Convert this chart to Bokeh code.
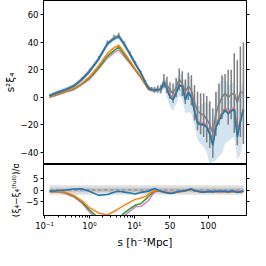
import numpy as np
from bokeh.plotting import figure
from bokeh.layouts import column
from bokeh.models import FixedTicker, LinearAxis, CustomJSTickFormatter, Range1d
from bokeh.embed import file_html
from bokeh.resources import INLINE

# ---------------- data ----------------
s = [0.13, 0.2, 0.3, 0.45, 0.67, 1.0, 1.6, 2.5, 3.5, 4.5, 6.0, 8.0, 10.5, 14, 18,
     22, 26, 30, 34, 38, 42, 46, 50, 54, 58, 62, 66, 70, 74, 78, 82, 86, 90, 94,
     98, 102, 106, 110, 114, 118, 122, 126, 130, 134, 138, 142, 146]

blue_top = [1.0, 3.5, 5.5, 8.0, 12.5, 18.5, 27.5, 38.5, 42.5, 44.0, 38.0, 31.0, 24.0, 17.5, 10.5,
            6.5, 5.5, 5.0, 5.5, 5.5, 10.5, 6.0, 0.0, -2.0, 3.0, 9.0, 8.0, -2.0, 3.5, 0.0, -10.0,
            -19.0, -20.0, -20.0, -22.0, -27.0, -35.0, -22.0, -17.0, -13.0, -9.5, -12.0, -10.0,
            -9.0, -29.0, -18.0, -9.0]
blue_band = [2.0, 2.0, 2.0, 2.0, 1.8, 1.6, 1.5, 1.5, 1.5, 1.5, 1.5, 1.5, 1.5, 1.5, 1.5,
             1.5, 2.0, 2.0, 2.5, 3.0, 4.0, 6.0, 7.0, 8.0, 8.0, 8.0, 9.0, 10.0, 14.0, 12.0, 11.0,
             12.0, 14.0, 16.0, 18.0, 22.0, 12.0, 24.0, 26.0, 28.0, 24.0, 20.0, 20.0, 20.0, 16.0,
             24.0, 22.0]
gray_top = [1.5, 4.0, 6.0, 8.5, 13.5, 19.5, 28.5, 39.5, 43.5, 45.0, 39.0, 32.0, 25.0, 18.0, 11.0,
            7.0, 6.0, 5.5, 6.0, 6.0, 12.0, 9.0, 5.0, 3.0, 7.0, 13.0, 10.0, 4.0, 8.0, 5.0, -4.0,
            -10.0, -12.0, -13.0, -16.0, -20.0, -26.0, -12.0, -5.0, 0.0, 3.0, 0.0, 2.0, 3.0, -4.0,
            4.0, 3.0]
gray_err = [0.5, 0.5, 0.6, 0.8, 1.0, 1.2, 1.5, 1.8, 2.0, 2.0, 1.8, 1.6, 1.4, 1.4, 1.5,
            1.5, 1.5, 2.0, 2.5, 3.0, 5.0, 6.0, 6.0, 7.0, 7.0, 8.0, 9.0, 9.0, 10.0, 11.0, 13.0,
            14.0, 15.0, 16.0, 17.0, 17.0, 18.0, 16.0, 15.0, 16.0, 14.0, 20.0, 18.0, 29.0, 31.0,
            33.0, 37.0]
orange_top = [0.3, 2.5, 4.5, 6.5, 10.0, 15.0, 23.0, 32.0, 36.0, 38.0, 32.5, 26.5, 20.5, 15.0, 9.5,
              6.0, 5.3, 4.8, 5.3, 5.3, 10.0, 6.2, 0.5, -1.5, 3.0, 8.5, 8.0, -1.5, 3.5, 0.0, -10.0,
              -18.5, -20.0, -20.0, -22.0, -26.5, -34.0, -22.0, -16.5, -12.5, -9.0, -11.5, -10.0,
              -8.5, -28.0, -17.5, -9.0]
green_top = [0.2, 2.2, 4.2, 6.0, 9.5, 14.0, 21.5, 30.0, 34.0, 36.5, 31.0, 25.5, 20.0, 14.5, 9.3,
             5.8, 5.1, 4.8, 5.2, 5.2, 9.8, 6.4, 0.8, -1.2, 3.2, 8.6, 8.0, -1.2, 3.7, 0.3, -9.5,
             -18.0, -19.5, -19.5, -21.5, -26.0, -33.5, -21.5, -16.0, -12.0, -8.5, -12.0, -9.5,
             -8.5, -27.5, -17.0, -8.5]
pink_top = [0.0, 1.8, 3.8, 5.5, 9.0, 13.0, 20.5, 28.5, 32.5, 34.5, 29.5, 24.5, 19.5, 14.0, 9.0,
            5.5, 5.0, 4.6, 5.0, 5.3, 10.0, 7.0, 2.0, 0.0, 4.0, 9.2, 8.5, 0.0, 4.5, 1.0, -8.5,
            -17.0, -18.5, -18.5, -20.5, -25.0, -32.0, -20.0, -15.0, -11.0, -7.5, -10.5, -8.5,
            -7.5, -26.0, -16.0, -8.0]

blue_res = [-0.6, -0.2, 0.0, 0.4, 0.5, -0.5, -2.3, -1.9, -1.0, -0.5, -0.9, -1.3, -1.7, -1.0, -0.7,
            -0.5, 0.2, 0.6, 0.0, -0.5, -0.9, -1.2, -1.5, -1.4, -1.0, -0.6, -0.5, -0.3, 0.1, 0.4,
            -0.3, -0.5, -0.8, -0.9, -0.7, -0.6, -0.8, -0.5, -0.7, -0.6, -0.6, -0.8, -0.5, -0.6,
            -1.0, -0.8, -0.5]
orange_res = [-0.8, -0.6, -1.0, -2.3, -4.5, -7.5, -9.8, -10.7, -9.2, -8.0, -6.5, -5.2, -4.0, -3.4, -2.8,
              -1.8, -0.9, -0.3, -0.2, -0.6, -1.0, -1.3, -1.4, -1.3, -1.0, -0.7, -0.6, -0.4, 0.0, 0.3,
              -0.4, -0.6, -0.8, -0.9, -0.8, -0.7, -0.8, -0.6, -0.7, -0.6, -0.7, -0.8, -0.6, -0.7,
              -1.0, -0.8, -0.6]
green_res = [-0.8, -0.6, -1.2, -2.6, -5.0, -8.5, -12.0, -14.0, -13.0, -12.0, -9.8, -8.0, -6.5, -5.8, -4.0,
             -2.8, -1.5, -0.5, -0.3, -0.6, -1.0, -1.2, -1.3, -1.2, -0.9, -0.6, -0.5, -0.3, 0.1, 0.4,
             -0.3, -0.5, -0.7, -0.8, -0.7, -0.6, -0.7, -0.5, -0.6, -0.5, -0.6, -0.7, -0.5, -0.6,
             -0.9, -0.7, -0.5]
pink_res = [-0.5, -0.8, -1.6, -3.0, -5.5, -9.4, -13.0, -15.0, -14.0, -13.0, -11.0, -9.0, -7.2, -7.0, -5.5,
            -4.5, -2.5, -1.0, -0.2, -0.3, -0.6, -0.9, -1.0, -1.0, -0.7, -0.4, -0.3, -0.2, 0.2, 0.4,
            -0.2, -0.3, -0.5, -0.6, -0.5, -0.3, -0.4, -0.2, -0.4, -0.3, -0.3, -0.5, -0.2, -0.3,
            -0.6, -0.4, -0.3]

x_major = [0.1, 1, 10, 50, 100]
x_major_labels = ["10⁻¹", "10⁰", "10¹", "50", "100"]
x_minor = [0.2, 0.3, 0.4, 0.5, 0.6, 0.7, 0.8, 0.9, 2, 3, 4, 5, 6, 7, 8, 9]
top_yticks = [-40, -20, 0, 20, 40, 60]
bot_yticks = [-5, 0, 5]

# ---------------- hybrid log / linear x scale ----------------
S_BREAK = 17.0
LIN_SLOPE = 0.8 / 47.0   # decades per unit beyond the break


def u(v):
    v = np.asarray(v, dtype=float)
    return np.where(v <= S_BREAK, np.log10(np.minimum(v, S_BREAK)),
                    np.log10(S_BREAK) + (v - S_BREAK) * LIN_SLOPE)


sa = np.array(s)
ux = u(sa)

BLUE, ORANGE, GREEN, PINK, GRAY = "#1f77b4", "#ff7f0e", "#2ca02c", "#e377c2", "#7f7f7f"
FONT = "DejaVu Sans"
TICK_FS = "8.5px"
LAB_FS = "10.5px"

x_range = Range1d(float(u(0.095)), float(u(150.0)))


def style_axis(ax):
    ax.major_label_text_font = FONT
    ax.major_label_text_font_size = TICK_FS
    ax.major_label_text_color = "black"
    ax.axis_label_text_font = FONT
    ax.axis_label_text_font_size = LAB_FS
    ax.axis_label_text_font_style = "normal"
    ax.axis_label_text_color = "black"
    ax.axis_line_color = "black"
    ax.major_tick_line_color = "black"
    ax.minor_tick_line_color = "black"
    ax.major_tick_in = 0
    ax.major_tick_out = 3
    ax.minor_tick_in = 0
    ax.minor_tick_out = 2
    ax.major_label_standoff = 2
    ax.axis_label_standoff = 2


def right_axis(ticks):
    ax = LinearAxis(ticker=FixedTicker(ticks=ticks, minor_ticks=[]),
                    formatter=CustomJSTickFormatter(code="return ''"))
    style_axis(ax)
    ax.major_label_standoff = 0
    return ax


# ---------------- top panel ----------------
p1 = figure(width=250, height=164, x_range=x_range, y_range=Range1d(-49, 70.5),
            output_backend="svg", toolbar_location=None, x_axis_location=None,
            min_border_left=38, min_border_right=4, min_border_top=0, min_border_bottom=0)
p1.grid.visible = False
p1.outline_line_color = "black"
p1.outline_line_alpha = 1
p1.background_fill_color = "white"

bt = np.array(blue_top)
bb = np.array(blue_band)
gt = np.array(gray_top)
ge = np.array(gray_err)
p1.varea(x=ux, y1=bt - bb, y2=bt + bb, fill_color=BLUE, fill_alpha=0.2)
p1.segment(x0=ux, y0=gt - ge, x1=ux, y1=gt + ge, line_color=GRAY, line_width=1.5)
p1.line(ux, gt, line_color=GRAY, line_width=1.6)
p1.line(ux, pink_top, line_color=PINK, line_width=1.5)
p1.line(ux, green_top, line_color=GREEN, line_width=1.5)
p1.line(ux, orange_top, line_color=ORANGE, line_width=1.5)
p1.line(ux, blue_top, line_color=BLUE, line_width=1.6)

ya = p1.yaxis[0]
style_axis(ya)
ya.ticker = FixedTicker(ticks=top_yticks, minor_ticks=[])
ya.major_label_overrides = {t: (str(t).replace("-", "−")) for t in top_yticks}
ya.axis_label = "s²ξ₄"
p1.add_layout(right_axis(top_yticks), "right")

# ---------------- bottom panel ----------------
p2 = figure(width=250, height=86, x_range=x_range, y_range=Range1d(-10.9, 10.9),
            output_backend="svg", toolbar_location=None,
            min_border_left=38, min_border_right=4, min_border_top=0, min_border_bottom=0)
p2.grid.visible = False
p2.outline_line_color = "black"
p2.outline_line_alpha = 1

xs_end = [float(ux[0]), float(ux[-1])]
p2.varea(x=xs_end, y1=[-2, -2], y2=[2, 2], fill_color="#808080", fill_alpha=0.25)
p2.varea(x=xs_end, y1=[-1, -1], y2=[1, 1], fill_color="#808080", fill_alpha=0.25)
p2.line(xs_end, [0, 0], line_color=GRAY, line_width=1.2, line_dash="4 2")
p2.line(ux, pink_res, line_color=PINK, line_width=1.5)
p2.line(ux, green_res, line_color=GREEN, line_width=1.5)
p2.line(ux, orange_res, line_color=ORANGE, line_width=1.5)
p2.line(ux, blue_res, line_color=BLUE, line_width=1.6)

xa = p2.xaxis[0]
style_axis(xa)
maj = [float(v) for v in u(x_major)]
xa.ticker = FixedTicker(ticks=maj, minor_ticks=[float(v) for v in u(x_minor)])
xa.major_label_overrides = {m: lab for m, lab in zip(maj, x_major_labels)}
xa.axis_label = "s [h⁻¹Mpc]"

yb = p2.yaxis[0]
style_axis(yb)
yb.ticker = FixedTicker(ticks=bot_yticks, minor_ticks=[])
yb.major_label_overrides = {t: (str(t).replace("-", "−")) for t in bot_yticks}
yb.axis_label = "(ξ₄−ξ₄⁽ᶠᵘˡˡ⁾)/σ"
yb.axis_label_text_font_size = "9px"
p2.add_layout(right_axis(bot_yticks), "right")

p = column(p1, p2)
open("out.html", "w").write(file_html(p, INLINE))
